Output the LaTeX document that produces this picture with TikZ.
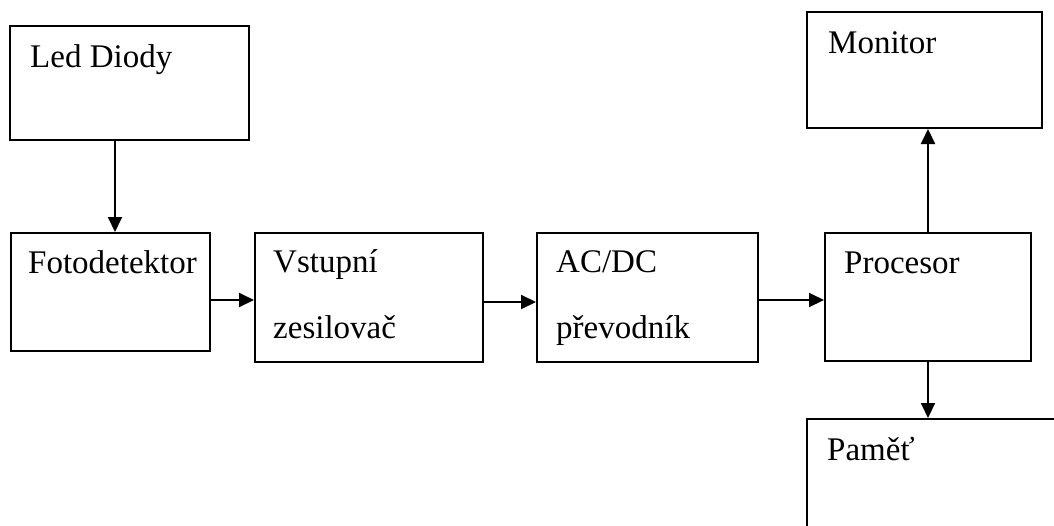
\documentclass[tikz,border=0pt]{standalone}
\usepackage{fontspec}
\setmainfont{Liberation Serif}
\usetikzlibrary{arrows.meta}
\begin{document}
\begin{tikzpicture}[x=1pt,y=-1pt,
  box/.style={draw, line width=2pt, inner sep=0pt},
  lbl/.style={anchor=base west, inner sep=0pt, font=\fontsize{33}{38}\selectfont},
  arr/.style={line width=2pt, -{Triangle[length=15pt,width=14pt]}}]
\clip (0,0) rectangle (1054,525);
\useasboundingbox (0,0) rectangle (1054,525);
\node[box, minimum width=239pt, minimum height=114pt] (led) at (129.5,83) {};
\node[box, minimum width=199pt, minimum height=118pt] (foto) at (110.5,292) {};
\node[box, minimum width=228pt, minimum height=129pt] (vst) at (369,297.5) {};
\node[box, minimum width=221pt, minimum height=129pt] (ac) at (647.5,297.5) {};
\node[box, minimum width=206pt, minimum height=128pt] (proc) at (928,297) {};
\node[box, minimum width=235pt, minimum height=116pt] (mon) at (924.5,70) {};
\node[box, minimum width=263pt, minimum height=141pt] (pam) at (938.5,489.5) {};
\node[lbl] (tled) at (30,67) {Led Diody};
\node[lbl] (tfoto) at (28,273) {Fotodetektor};
\node[lbl] (tvst1) at (273,272) {Vstupní};
\node[lbl] (tvst2) at (273,338) {zesilovač};
\node[lbl] (tac1) at (556,272) {AC/DC};
\node[lbl] (tac2) at (556,338) {převodník};
\node[lbl] (tproc) at (844,273) {Procesor};
\node[lbl] (tmon) at (828,53) {Monitor};
\node[lbl] (tpam) at (827,460) {Paměť};
\draw[arr] ([xshift=-14.5pt]led.south) -- ([xshift=4.5pt]foto.north);
\draw[arr] ([yshift=-8pt]foto.east) -- ([yshift=-2.5pt]vst.west);
\draw[arr] ([yshift=-4.5pt]vst.east) -- ([yshift=-4.5pt]ac.west);
\draw[arr] ([yshift=-2.5pt]ac.east) -- ([yshift=-3pt]proc.west);
\draw[arr] (proc.north) -- ([xshift=3.5pt]mon.south);
\draw[arr] (proc.south) -- ([xshift=-10.5pt]pam.north);
\end{tikzpicture}
\end{document}
